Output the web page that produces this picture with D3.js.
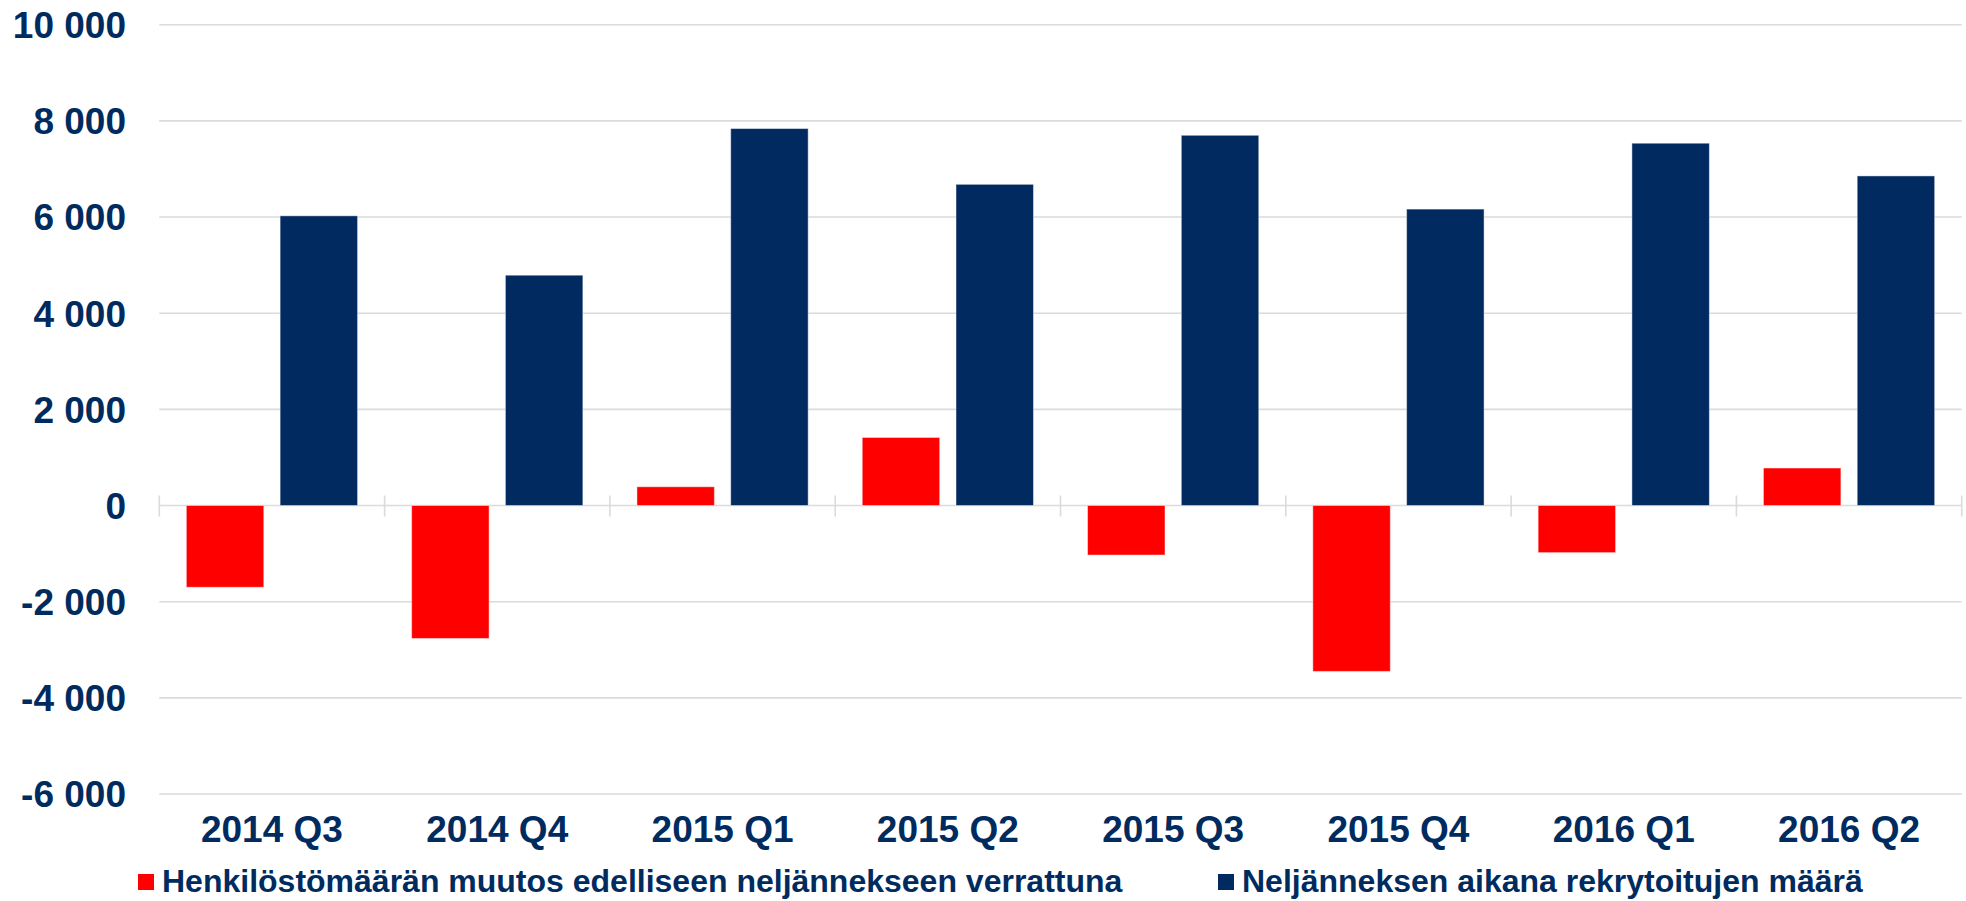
<!DOCTYPE html>
<html>
<head>
<meta charset="utf-8">
<script src="https://d3js.org/d3.v7.min.js"></script>
<style>
  body { margin: 0; background: #fff; }
  svg text {
    font-family: Arial, "Liberation Sans", sans-serif;
    font-weight: bold;
    fill: #002b5f;
  }
</style>
<title>Henkilöstö ja rekrytoinnit</title>
</head>
<body>
<svg id="chart"></svg>
<script>
const width = 1966,
  height = 901;

// data
const quarters = ["2014 Q3", "2014 Q4", "2015 Q1", "2015 Q2", "2015 Q3", "2015 Q4", "2016 Q1", "2016 Q2"];
const headcountChange = [-1700, -2765, 390, 1415, -1030, -3450, -980, 780];
const recruits = [6025, 4790, 7840, 6680, 7700, 6165, 7535, 6855];
const seriesNames = [
  "Henkilöstömäärän muutos edelliseen neljännekseen verrattuna",
  "Neljänneksen aikana rekrytoitujen määrä"
];
const seriesColors = ["#ff0000", "#002a60"];
const yTicks = [-6000, -4000, -2000, 0, 2000, 4000, 6000, 8000, 10000];

const plot = { left: 159.3, right: 1961.7, top: 24.7, bottom: 794 };
const gridColor = "#dadadf";

const fmt = d3.formatLocale({ decimal: ",", thousands: " ", grouping: [3], currency: ["", ""], minus: "-" }).format(",d");

const svg = d3.select("#chart").attr("width", width).attr("height", height);

const y = d3.scaleLinear().domain([-6000, 10000]).range([plot.bottom, plot.top]);

const x0 = d3.scaleBand()
  .domain(quarters)
  .range([plot.left, plot.right])
  .paddingInner(0.24)
  .paddingOuter(0.12);

const x1 = d3.scaleBand()
  .domain([0, 1])
  .range([0, x0.bandwidth()])
  .paddingInner(0.174);

// category boundaries for the ticks on the zero line
const xCat = d3.scaleBand().domain(quarters).range([plot.left, plot.right]);

// gridlines
svg.append("g")
  .selectAll("line")
  .data(yTicks)
  .join("line")
  .attr("x1", plot.left)
  .attr("x2", plot.right)
  .attr("y1", d => y(d))
  .attr("y2", d => y(d))
  .attr("stroke", gridColor)
  .attr("stroke-width", 1.6);

// tick marks on the zero line
const bounds = quarters.map(q => xCat(q)).concat([plot.right]);
svg.append("g")
  .selectAll("line")
  .data(bounds)
  .join("line")
  .attr("x1", d => d)
  .attr("x2", d => d)
  .attr("y1", y(0) - 10)
  .attr("y2", y(0) + 11)
  .attr("stroke", gridColor)
  .attr("stroke-width", 1.6);

// y axis labels
svg.append("g")
  .selectAll("text")
  .data(yTicks)
  .join("text")
  .attr("x", 126)
  .attr("y", d => y(d))
  .attr("dy", "0.36em")
  .attr("text-anchor", "end")
  .style("font-size", "37px")
  .text(d => fmt(d));

// bars
const series = [headcountChange, recruits];
const groups = svg.append("g")
  .selectAll("g")
  .data(quarters)
  .join("g")
  .attr("transform", d => `translate(${x0(d)},0)`);

groups.selectAll("rect")
  .data((q, i) => series.map((s, k) => ({ k: k, v: s[i] })))
  .join("rect")
  .attr("x", d => x1(d.k))
  .attr("width", x1.bandwidth())
  .attr("y", d => y(Math.max(0, d.v)))
  .attr("height", d => Math.abs(y(d.v) - y(0)))
  .attr("fill", d => seriesColors[d.k])
  .attr("stroke", "#ffffff")
  .attr("stroke-opacity", 0.45)
  .attr("stroke-width", 1);

// x axis labels
svg.append("g")
  .selectAll("text")
  .data(quarters)
  .join("text")
  .attr("x", d => xCat(d) + xCat.bandwidth() / 2)
  .attr("y", 842)
  .attr("text-anchor", "middle")
  .style("font-size", "37px")
  .text(d => d);

// legend
const legendX = [138, 1218];
const legend = svg.append("g")
  .selectAll("g")
  .data(seriesNames)
  .join("g")
  .attr("transform", (d, i) => `translate(${legendX[i]},0)`);

legend.append("rect")
  .attr("x", 0)
  .attr("y", 874)
  .attr("width", 16)
  .attr("height", 16)
  .attr("fill", (d, i) => seriesColors[i]);

legend.append("text")
  .attr("x", 24)
  .attr("y", 892)
  .style("font-size", "32px")
  .text(d => d);
</script>
</body>
</html>
